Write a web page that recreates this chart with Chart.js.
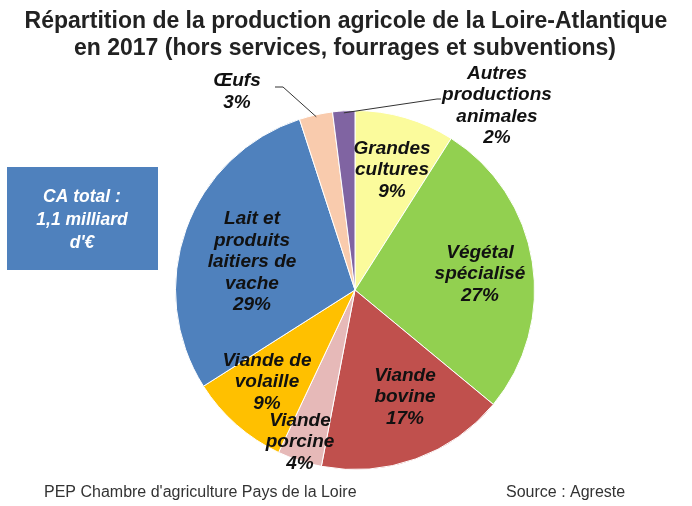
<!DOCTYPE html>
<html>
<head>
<meta charset="utf-8">
<script src="https://cdn.jsdelivr.net/npm/chart.js@4/dist/chart.umd.min.js"></script>
<style>
  html, body { margin: 0; padding: 0; background: #fff; }
  #wrap { width: 692px; height: 506px; position: relative; }
</style>
</head>
<body>
<div id="wrap"><canvas id="chart" width="692" height="506"></canvas></div>
<script>
// Data (clockwise from 12 o'clock)
const categories = [
  ["Grandes", "cultures"],
  ["Végétal", "spécialisé"],
  ["Viande", "bovine"],
  ["Viande", "porcine"],
  ["Viande de", "volaille"],
  ["Lait et", "produits", "laitiers de", "vache"],
  ["Œufs"],
  ["Autres", "productions", "animales"]
];
const shares = [9, 27, 17, 4, 9, 29, 3, 2];
const sliceColors = ["#FBFB9C", "#92D050", "#C0504D", "#E6B9B8", "#FFC000", "#4F81BD", "#F9CBAD", "#8064A2"];

// label placement, relative to the pie centre
const labelOffsets = [[37, -120], [125, -16], [50, 107], [-55, 152], [-88, 92], [-103, -28], [-118, -198], [142, -184]];
// leader lines for the outside labels: [slice index, end x, end y, tail x]
const leaders = [[6, -72, -203, -80], [7, 82, -191, 86]];

const titleLines = [
  "Répartition de la production agricole de la Loire-Atlantique",
  "en 2017 (hors services, fourrages et subventions)"
];
const boxLines = ["CA total :", "1,1 milliard", "d'€"];

const textPlugin = {
  id: "texts",
  afterDraw(chart) {
    const ctx = chart.ctx;
    const meta = chart.getDatasetMeta(0);
    ctx.save();
    ctx.textAlign = "center";
    ctx.textBaseline = "middle";

    // title
    ctx.fillStyle = "#222";
    ctx.font = "bold 23px 'Liberation Sans', Arial, sans-serif";
    ctx.fillText(titleLines[0], 346, 22);
    ctx.fillText(titleLines[1], 345, 49);

    // total box
    ctx.fillStyle = "#4F81BD";
    ctx.fillRect(7, 167, 151, 103);
    ctx.fillStyle = "#fff";
    ctx.font = "italic bold 17.5px 'Liberation Sans', Arial, sans-serif";
    boxLines.forEach((t, i) => ctx.fillText(t, 82, 197 + i * 23));

    // leader lines
    ctx.strokeStyle = "#333";
    ctx.lineWidth = 1;
    leaders.forEach(([idx, ex, ey, tx]) => {
      const arc = meta.data[idx];
      const mid = (arc.startAngle + arc.endAngle) / 2;
      const sx = arc.x + Math.cos(mid) * (arc.outerRadius - 2);
      const sy = arc.y + Math.sin(mid) * (arc.outerRadius - 2);
      ctx.beginPath();
      ctx.moveTo(sx, sy);
      ctx.lineTo(arc.x + ex, arc.y + ey);
      ctx.lineTo(arc.x + tx, arc.y + ey);
      ctx.stroke();
    });

    // slice labels
    ctx.fillStyle = "#111";
    ctx.font = "italic bold 19px 'Liberation Sans', Arial, sans-serif";
    meta.data.forEach((arc, i) => {
      const lines = categories[i].concat([shares[i] + "%"]);
      const cx = arc.x + labelOffsets[i][0];
      const cy = arc.y + labelOffsets[i][1];
      const lh = 21.5;
      const top = cy - (lines.length - 1) * lh / 2;
      lines.forEach((t, j) => ctx.fillText(t, cx, top + j * lh));
    });

    // footer
    ctx.fillStyle = "#333";
    ctx.font = "16px 'Liberation Sans', Arial, sans-serif";
    ctx.textAlign = "left";
    ctx.fillText("PEP Chambre d'agriculture Pays de la Loire", 44, 493);
    ctx.fillText("Source : Agreste", 506, 493);
    ctx.restore();
  }
};

new Chart(document.getElementById("chart"), {
  type: "pie",
  data: {
    labels: categories.map(c => c.join(" ")),
    datasets: [{
      data: shares,
      backgroundColor: sliceColors,
      borderColor: "#fff",
      borderWidth: 1
    }]
  },
  options: {
    responsive: false,
    animation: false,
    layout: { padding: { top: 110, bottom: 36, left: 175, right: 157 } },
    plugins: {
      legend: { display: false },
      tooltip: { enabled: false },
      title: { display: false }
    }
  },
  plugins: [textPlugin]
});
</script>
</body>
</html>
